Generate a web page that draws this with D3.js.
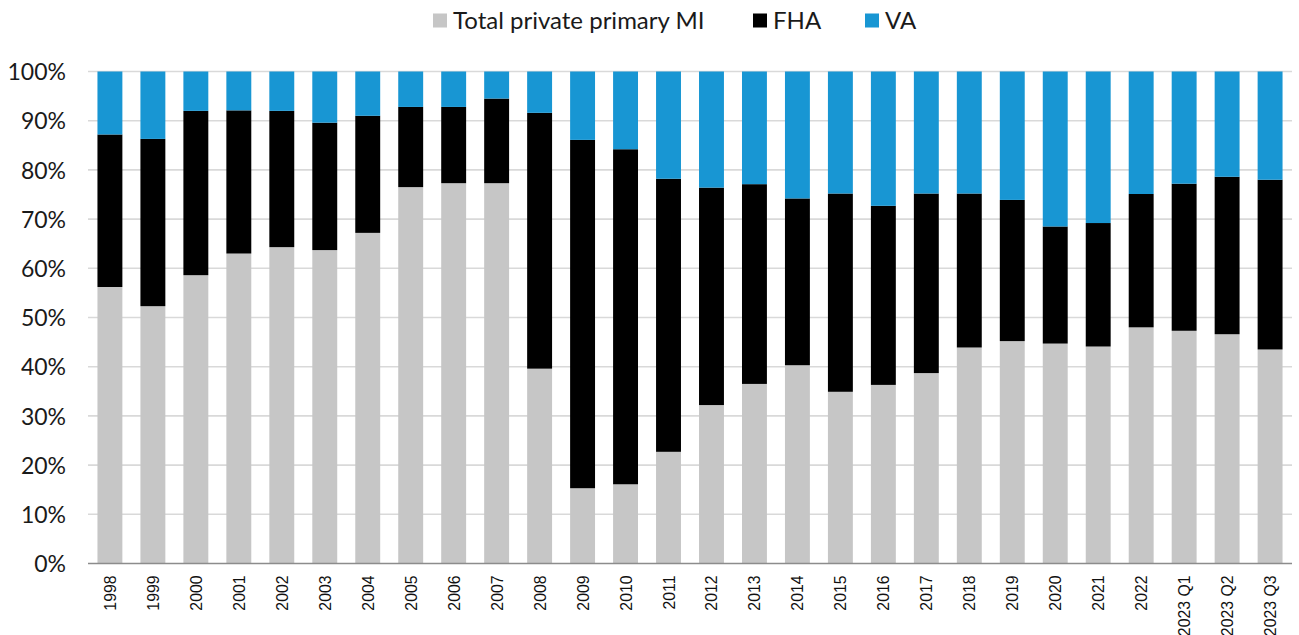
<!DOCTYPE html>
<html>
<head>
<meta charset="utf-8">
<script src="https://cdn.jsdelivr.net/npm/d3@7"></script>
<style>
  html, body { margin: 0; padding: 0; background: #fff; }
  svg { display: block; }
</style>
</head>
<body>
<svg id="chart" width="1299" height="635"></svg>
<script>
// Share of insured mortgage originations by insurer type (%)
const categories = ["1998","1999","2000","2001","2002","2003","2004","2005","2006","2007",
  "2008","2009","2010","2011","2012","2013","2014","2015","2016","2017","2018","2019",
  "2020","2021","2022","2023 Q1","2023 Q2","2023 Q3"];

const privateMI = [56.2, 52.3, 58.6, 63.0, 64.3, 63.7, 67.2, 76.5, 77.3, 77.3,
  39.6, 15.3, 16.1, 22.7, 32.2, 36.5, 40.3, 34.9, 36.3, 38.7, 43.9, 45.2,
  44.7, 44.1, 48.0, 47.3, 46.6, 43.5];

const fha = [31.0, 34.0, 33.4, 29.1, 27.7, 25.9, 23.8, 16.3, 15.5, 17.2,
  52.0, 70.8, 68.1, 55.5, 44.2, 40.6, 33.9, 40.3, 36.4, 36.5, 31.3, 28.7,
  23.8, 25.1, 27.1, 29.9, 32.0, 34.5];

const va = [12.8, 13.7, 8.0, 7.9, 8.0, 10.4, 9.0, 7.2, 7.2, 5.5,
  8.4, 13.9, 15.8, 21.8, 23.6, 22.9, 25.8, 24.8, 27.3, 24.8, 24.8, 26.1,
  31.5, 30.8, 24.9, 22.8, 21.4, 22.0];

const seriesNames = ["Total private primary MI", "FHA", "VA"];
const seriesKeys = ["private", "fha", "va"];
const seriesColors = ["#c6c6c6", "#000000", "#1896d3"];
const yTicks = [0, 10, 20, 30, 40, 50, 60, 70, 80, 90, 100];

const rows = categories.map((c, i) => ({
  category: c, private: privateMI[i], fha: fha[i], va: va[i]
}));

const svg = d3.select("#chart");

const x = d3.scaleBand()
  .domain(categories)
  .range([88, 1292])
  .paddingInner(0.42)
  .paddingOuter(0.22);

const y = d3.scaleLinear()
  .domain([0, 100])
  .range([563.5, 71.5]);

const color = d3.scaleOrdinal().domain(seriesKeys).range(seriesColors);

// horizontal gridlines
svg.append("g")
  .selectAll("line")
  .data(yTicks.filter(t => t > 0))
  .join("line")
  .attr("x1", 88).attr("x2", 1292)
  .attr("y1", d => y(d)).attr("y2", d => y(d))
  .attr("stroke", "#d9d9d9")
  .attr("stroke-width", 1.6);

// stacked bars
const stack = d3.stack().keys(seriesKeys);
const stacked = stack(rows);

svg.append("g")
  .selectAll("g")
  .data(stacked)
  .join("g")
  .attr("fill", d => color(d.key))
  .selectAll("rect")
  .data(d => d)
  .join("rect")
  .attr("x", d => x(d.data.category))
  .attr("width", x.bandwidth())
  .attr("y", d => y(Math.min(100, d[1])))
  .attr("height", d => y(d[0]) - y(Math.min(100, d[1])));

// y axis labels
const yAxis = d3.axisLeft(y)
  .tickValues(yTicks)
  .tickFormat(d => d + "%")
  .tickSize(0)
  .tickPadding(0);

const gy = svg.append("g")
  .attr("transform", "translate(66,0)")
  .call(yAxis);
gy.select(".domain").remove();
gy.selectAll("text")
  .attr("font-family", "Lato, sans-serif")
  .attr("font-size", 23)
  .attr("fill", "#1a1a1a")
  .attr("dy", "0.36em");

// x axis baseline and category labels
const xAxis = d3.axisBottom(x).tickSize(0).tickPadding(0);
const gx = svg.append("g")
  .attr("transform", `translate(0,${y(0)})`)
  .call(xAxis);
gx.select(".domain").remove();
svg.append("line")
  .attr("x1", 88).attr("x2", 1292)
  .attr("y1", y(0)).attr("y2", y(0))
  .attr("stroke", "#8c8c8c")
  .attr("stroke-width", 1.6);

gx.selectAll(".tick text")
  .attr("font-family", "'Liberation Sans', Arial, sans-serif")
  .attr("font-size", 17)
  .attr("fill", "#111")
  .attr("text-anchor", "end")
  .attr("dy", null)
  .attr("y", 0)
  .attr("transform", "translate(6,12) rotate(-90) scale(0.93,1)");

// legend
const legendItems = [
  { name: seriesNames[0], color: seriesColors[0], x: 433 },
  { name: seriesNames[1], color: seriesColors[1], x: 753 },
  { name: seriesNames[2], color: seriesColors[2], x: 865 }
];
const legend = svg.append("g");
const li = legend.selectAll("g")
  .data(legendItems)
  .join("g")
  .attr("transform", d => `translate(${d.x},13.5)`);
li.append("rect")
  .attr("width", 14).attr("height", 14)
  .attr("fill", d => d.color);
li.append("text")
  .attr("x", 20)
  .attr("y", 15)
  .attr("font-family", "Lato, sans-serif")
  .attr("font-size", 24)
  .attr("fill", "#1a1a1a")
  .text(d => d.name);
</script>
</body>
</html>
